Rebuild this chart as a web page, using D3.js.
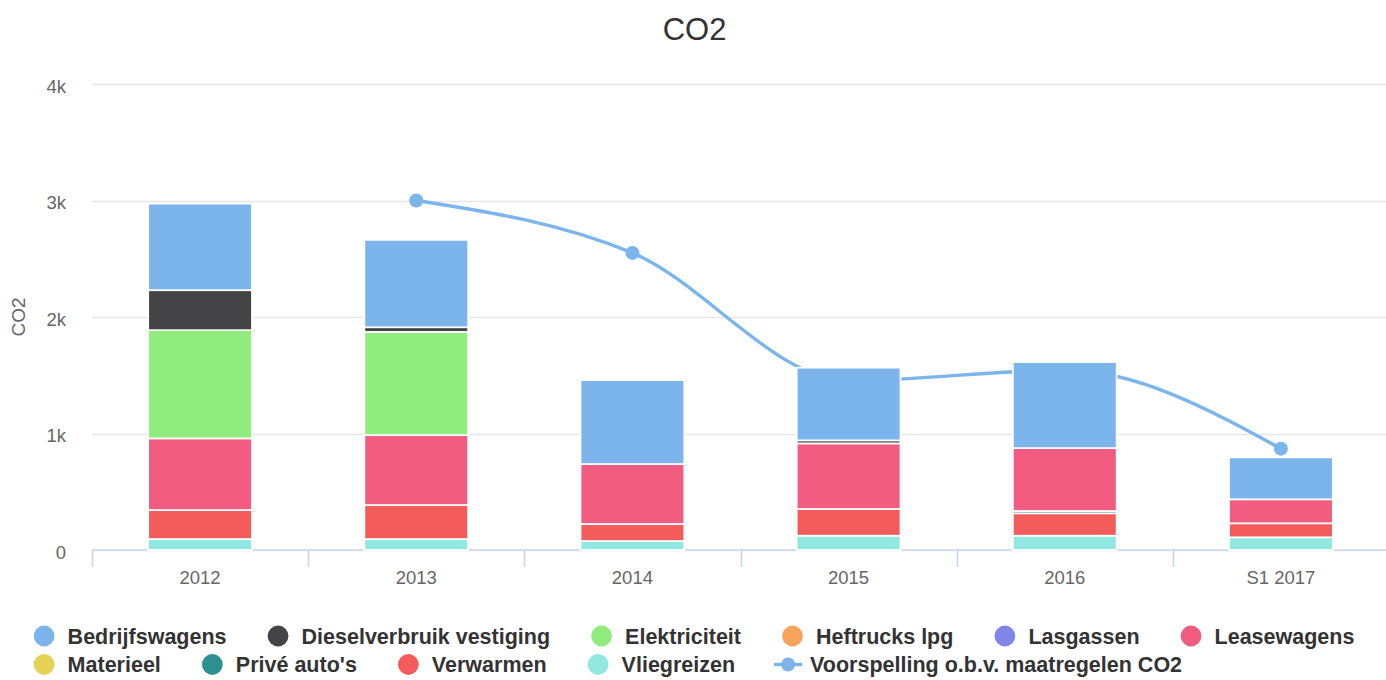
<!DOCTYPE html>
<html>
<head>
<meta charset="utf-8">
<script src="https://cdn.jsdelivr.net/npm/d3@7"></script>
<style>
  html, body { margin: 0; padding: 0; background: #fff; }
  svg { display: block; font-family: "Liberation Sans", Arial, Helvetica, sans-serif; }
</style>
</head>
<body>
<svg id="chart" width="1386" height="680"></svg>
<script>
// ---- data ----
const categories = ["2012", "2013", "2014", "2015", "2016", "S1 2017"];
const seriesNames = ["Bedrijfswagens", "Dieselverbruik vestiging", "Elektriciteit", "Heftrucks lpg",
  "Lasgassen", "Leasewagens", "Materieel", "Privé auto's", "Verwarmen", "Vliegreizen"];
const bedrijfswagens = [743, 750, 720, 624, 738, 360];
const dieselverbruik = [343, 40, 0, 26, 0, 0];
const elektriciteit  = [929, 886, 0, 0, 0, 0];
const heftrucks      = [0, 0, 0, 0, 0, 0];
const lasgassen      = [0, 0, 0, 0, 0, 0];
const leasewagens    = [615, 600, 515, 563, 540, 206];
const materieel      = [0, 0, 0, 0, 0, 0];
const priveAutos     = [0, 0, 0, 0, 20, 0];
const verwarmen      = [249, 292, 146, 229, 192, 120];
const vliegreizen    = [94, 94, 77, 123, 123, 109];
const forecastName = "Voorspelling o.b.v. maatregelen CO2";
const forecastCats = ["2013", "2014", "2015", "2016", "S1 2017"];
const forecast     = [3000, 2550, 1453, 1545, 870];
const yTicks = [0, 1000, 2000, 3000, 4000];
const yTickLabels = ["0", "1k", "2k", "3k", "4k"];
const colors = ["#7cb5ec", "#434348", "#90ed7d", "#f7a35c", "#8085e9", "#f15c80",
  "#e4d354", "#2b908f", "#f45b5b", "#91e8e1"];
const lineColor = "#7cb5ec";

const seriesValues = [bedrijfswagens, dieselverbruik, elektriciteit, heftrucks, lasgassen,
  leasewagens, materieel, priveAutos, verwarmen, vliegreizen];

// ---- layout ----
const W = 1386, H = 680;
const plot = { left: 92, right: 1389, top: 84, bottom: 550 };
const svg = d3.select("#chart");

const x = d3.scaleBand().domain(categories).range([plot.left, plot.right]).paddingInner(0).paddingOuter(0);
const y = d3.scaleLinear().domain([0, 4000]).range([plot.bottom, plot.top]);

// title
svg.append("text").attr("x", 694.5).attr("y", 39.5).attr("text-anchor", "middle")
  .attr("font-size", 31).attr("fill", "#333333").text("CO2");

// gridlines
svg.append("g").selectAll("line").data(yTicks).join("line")
  .attr("x1", plot.left).attr("x2", plot.right)
  .attr("y1", d => Math.round(y(d)) + 0.5).attr("y2", d => Math.round(y(d)) + 0.5)
  .attr("stroke", "#e6e6e6").attr("stroke-width", 1.6);

// y labels
svg.append("g").selectAll("text").data(yTicks).join("text")
  .attr("x", 66).attr("y", d => y(d) + 8.5).attr("text-anchor", "end")
  .attr("font-size", 18.5).attr("fill", "#666666")
  .text((d, i) => yTickLabels[i]);

// y axis title
svg.append("text").attr("transform", `translate(25,${(plot.top + plot.bottom) / 2}) rotate(-90)`)
  .attr("text-anchor", "middle").attr("font-size", 19).attr("fill", "#666666").text("CO2");

// x axis
const xAxisG = svg.append("g");
xAxisG.append("line").attr("x1", plot.left).attr("x2", plot.right)
  .attr("y1", plot.bottom).attr("y2", plot.bottom).attr("stroke", "#ccd6eb").attr("stroke-width", 1.7);
const tickXs = categories.map(c => x(c)).concat([x(categories[categories.length - 1]) + x.bandwidth()]);
xAxisG.selectAll("line.tick").data(tickXs).join("line").attr("class", "tick")
  .attr("x1", d => Math.round(d) + 0.5).attr("x2", d => Math.round(d) + 0.5)
  .attr("y1", plot.bottom).attr("y2", plot.bottom + 17)
  .attr("stroke", "#ccd6eb").attr("stroke-width", 1.7);
xAxisG.selectAll("text").data(categories).join("text")
  .attr("x", d => x(d) + x.bandwidth() / 2).attr("y", 583.5).attr("text-anchor", "middle")
  .attr("font-size", 18.5).attr("fill", "#666666").text(d => d);

// forecast line (drawn under the columns)
const fpts = forecastCats.map((c, i) => [x(c) + x.bandwidth() / 2, y(forecast[i])]);
svg.append("path").datum(fpts)
  .attr("d", d3.line().curve(d3.curveMonotoneX))
  .attr("fill", "none").attr("stroke", lineColor).attr("stroke-width", 3.4)
  .attr("stroke-linecap", "round").attr("stroke-linejoin", "round");
svg.append("g").selectAll("circle").data(fpts).join("circle")
  .attr("cx", d => d[0]).attr("cy", d => d[1]).attr("r", 7).attr("fill", lineColor);

// stacked columns: first series on top, last series at bottom
const groupPad = x.bandwidth() * 0.2;
const colW = (x.bandwidth() - 2 * groupPad) * 0.8;
const stackOrder = d3.range(seriesValues.length).reverse();
const barsG = svg.append("g");
categories.forEach((c, ci) => {
  let base = 0;
  stackOrder.forEach(si => {
    const v = seriesValues[si][ci];
    const top = base + v;
    if (v > 0) {
      const y0 = y(base), y1 = y(top);
      barsG.append("rect")
        .attr("x", x(c) + x.bandwidth() / 2 - colW / 2)
        .attr("y", y1)
        .attr("width", colW)
        .attr("height", Math.max(0, y0 - y1))
        .attr("fill", colors[si])
        .attr("stroke", "#ffffff").attr("stroke-width", 1.7);
    }
    base = top;
  });
});

// legend
const legendItems = seriesNames.map((n, i) => ({ name: n, color: colors[i], type: "circle" }))
  .concat([{ name: forecastName, color: lineColor, type: "line" }]);
const legendG = svg.append("g");
const maxRowWidth = 1350;
let cx = 0, row = 0;
const placed = [];
legendItems.forEach(it => {
  const t = legendG.append("text").attr("font-size", 21.5).attr("font-weight", "bold")
    .attr("fill", "#333333").text(it.name);
  const tw = t.node().getComputedTextLength();
  const itemW = 36 + tw;
  if (cx > 0 && cx + itemW > maxRowWidth) { row += 1; cx = 0; }
  placed.push({ it, t, tw, x: cx, row });
  cx += itemW + 39;
});
const rowWidths = d3.rollup(placed, v => d3.max(v, p => p.x + 36 + p.tw), p => p.row);
const legendW = d3.max(Array.from(rowWidths.values()));
const lx0 = (W - legendW) / 2;
const rowY = [636, 664.5];
placed.forEach(p => {
  const ix = lx0 + p.x, cy = rowY[p.row];
  p.t.attr("x", ix + 36).attr("y", cy + 7.5);
  if (p.it.type === "circle") {
    legendG.append("circle").attr("cx", ix + 12.5).attr("cy", cy).attr("r", 10.4).attr("fill", p.it.color);
  } else {
    legendG.append("line").attr("x1", ix).attr("x2", ix + 28).attr("y1", cy).attr("y2", cy)
      .attr("stroke", p.it.color).attr("stroke-width", 3.4);
    legendG.append("circle").attr("cx", ix + 14).attr("cy", cy).attr("r", 7).attr("fill", p.it.color);
  }
});
</script>
</body>
</html>
